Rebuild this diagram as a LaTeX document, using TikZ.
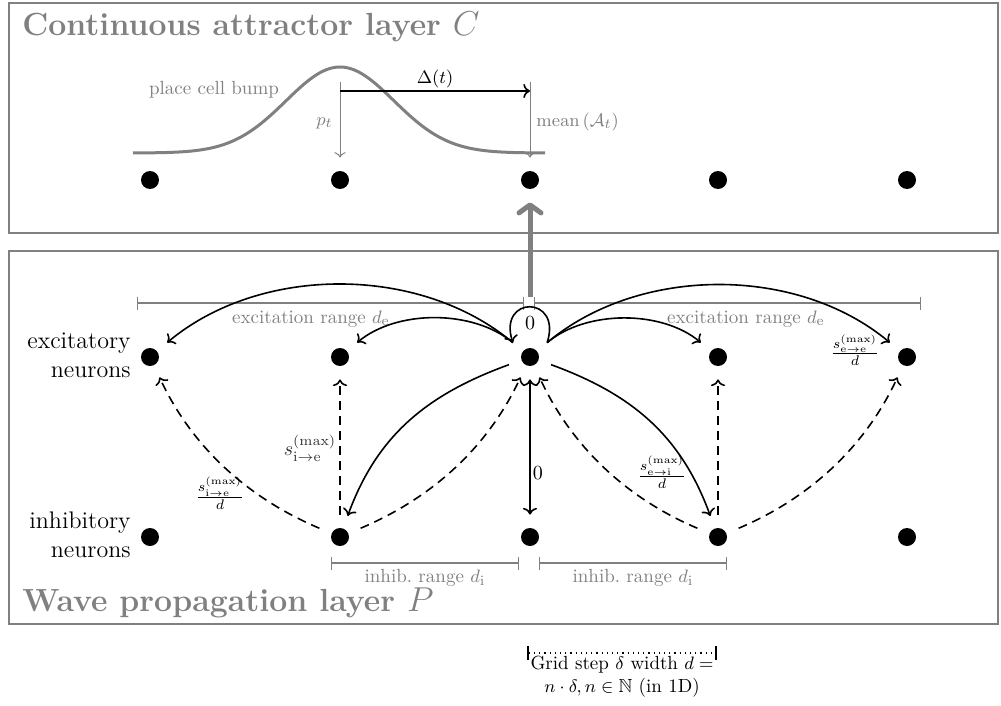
\documentclass[tikz,border=0pt]{standalone}
\usepackage{amsmath,amssymb}
\usetikzlibrary{arrows.meta}
\begin{document}
\begin{tikzpicture}[x=0.5pt,y=0.5pt,
  neuron/.style={circle, minimum size=22pt, inner sep=0pt,
    path picture={\fill[black] (path picture bounding box.center) circle (4.5pt);}},
  layerbox/.style={draw=gray, line width=1pt},
  layertitle/.style={text=gray, font=\fontsize{16}{19}\selectfont\bfseries, anchor=base west, inner sep=0pt},
  glabel/.style={text=gray, font=\fontsize{9.5}{11.5}\selectfont, inner sep=1pt},
  rangeline/.style={draw=gray, line width=0.6pt, {Bar[width=6.5pt]}-{Bar[width=6.5pt]}},
  side/.style={font=\fontsize{12}{14.5}\selectfont, align=right, anchor=east, inner sep=0pt},
  mlabel/.style={font=\fontsize{10}{12}\selectfont, inner sep=1pt},
  exc/.style={->, line width=0.8pt},
  inh/.style={->, line width=0.8pt, dash pattern=on 4.5pt off 3pt},
  ]
\useasboundingbox (0,0) rectangle (1001,-706);
% layer boxes
\draw[layerbox] (9,-3) rectangle (998,-233);
\draw[layerbox] (9,-251) rectangle (998,-624);
\node[layertitle] (tC) at (22,-36) {Continuous attractor layer $C$};
\node[layertitle] (tP) at (22,-611) {Wave propagation layer $P$};
% neurons
\foreach \i/\x in {1/150,2/340,3/530,4/718,5/907}{
  \node[neuron] (c\i) at (\x,-180) {};
  \node[neuron] (e\i) at (\x,-357) {};
  \node[neuron] (i\i) at (\x,-537) {};
}
% bump
\draw[gray, line width=1.5pt] plot[domain=133:545, samples=120, smooth] (\x, {-153+86*exp(-0.5*((\x-340)/54)^2)});
\node[glabel] (bump) at (214,-90) {place cell bump};
\coordinate (ptop) at (340,-82);
\coordinate (mtop) at (530,-82);
\draw[gray, line width=0.5pt, ->] (ptop) -- (c2);
\draw[gray, line width=0.5pt, ->] (mtop) -- (c3);
\node[glabel, anchor=east] (ptl) at (335,-123) {$p_t$};
\node[glabel, anchor=west] (mtl) at (534,-122) {$\mathrm{mean}\,(\mathcal{A}_t)$};
\coordinate (dA) at (340,-91);
\coordinate (dB) at (530,-91);
\draw[line width=0.8pt, ->] (dA) -- node[above, mlabel, font=\fontsize{9.5}{11}\selectfont] {$\Delta(t)$} (dB);
% thick arrow to attractor layer
\draw[gray, line width=2.5pt, -{Straight Barb[length=4pt,width=11pt,round]}] ([yshift=19pt]e3.north) -- (c3);
% excitation ranges
\coordinate (rl1) at (137,-303);
\coordinate (rl2) at (524,-303);
\coordinate (rr1) at (534,-303);
\coordinate (rr2) at (921,-303);
\draw[rangeline] (rl1) -- (rl2);
\draw[rangeline] (rr1) -- (rr2);
\node[glabel] (erl) at (311,-319) {excitation range $d_{\mathrm{e}}$};
\node[glabel] (err) at (746,-319) {excitation range $d_{\mathrm{e}}$};
% inhibition ranges
\coordinate (il1) at (331,-563);
\coordinate (il2) at (519,-563);
\coordinate (ir1) at (539,-563);
\coordinate (ir2) at (727,-563);
\draw[rangeline] (il1) -- (il2);
\draw[rangeline] (ir1) -- (ir2);
\node[glabel] (irl) at (425,-578) {inhib.\ range $d_{\mathrm{i}}$};
\node[glabel] (irr) at (633,-578) {inhib.\ range $d_{\mathrm{i}}$};
% side labels
\node[side] (sx) at (131,-355) {excitatory\\neurons};
\node[side] (si) at (131,-535) {inhibitory\\neurons};
% excitatory connections
\draw[exc] (e3.40) .. controls +(72:50) and +(108:50) .. node[pos=0.5, below=3pt, mlabel] {0} (e3.140);
\draw[exc] (e3) to[bend right=40, looseness=0.9] (e1);
\draw[exc] (e3) to[bend right=40, looseness=0.85] (e2);
\draw[exc] (e3) to[bend left=40, looseness=0.85] (e4);
\draw[exc] (e3) to[bend left=40, looseness=0.9] (e5);
\draw[exc] (e3) to[out=200, in=70] (i2);
\draw[exc] (e3) to[out=-20, in=110] (i4);
\draw[line width=0.8pt, <->] (e3) -- node[pos=0.69, right, mlabel] {0} (i3);
% inhibitory connections
\draw[inh] (i2) to[out=157, in=-65, looseness=0.9] (e1);
\draw[inh] (i2) to[out=23, in=245, looseness=0.9] (e3);
\draw[inh] (i2) -- (e2);
\draw[inh] (i4) to[out=157, in=-65, looseness=0.9] (e3);
\draw[inh] (i4) to[out=23, in=245, looseness=0.9] (e5);
\draw[inh] (i4) -- (e4);
% weight labels
\node[mlabel] (wee) at (855,-350) {$\frac{s^{(\max)}_{\mathrm{e}\to\mathrm{e}}}{d}$};
\node[mlabel] (wie) at (220,-493) {$\frac{s^{(\max)}_{\mathrm{i}\to\mathrm{e}}}{d}$};
\node[mlabel] (wei) at (662,-472) {$\frac{s^{(\max)}_{\mathrm{e}\to\mathrm{i}}}{d}$};
\node[mlabel, text=black!80] (wie2) at (310,-448) {$s^{(\max)}_{\mathrm{i}\to\mathrm{e}}$};
% legend
\coordinate (g1) at (527,-653);
\coordinate (g2) at (717,-653);
\draw[dotted, line width=0.6pt, {Bar[width=7pt,line width=1.2pt]}-{Bar[width=7pt,line width=1.2pt]}] (g1) -- node[below, inner sep=1pt, font=\fontsize{9.5}{11.5}\selectfont, align=center] {Grid step $\delta$ width $d=$\\$n\cdot\delta, n\in\mathbb{N}$ (in 1D)} (g2);
\end{tikzpicture}
\end{document}
